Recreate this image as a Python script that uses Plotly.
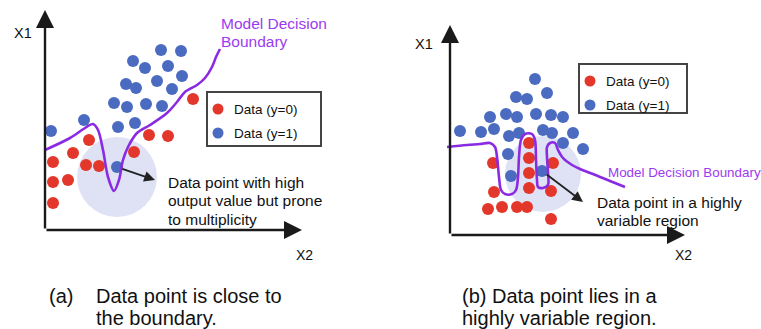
import plotly.graph_objects as go

W, H = 761, 329
FONT = "Arial, Liberation Sans, sans-serif"
RED = "#e4372b"
BLUE = "#4a6bc0"
PURPLE = "#8a2be2"
PURPLE_TXT = "#9b3bef"
HALO = "#dfe2f5"

# ---------------- panel (a): point close to the boundary ----------------
a_red_x2 = [148, 104, 123, 89, 44, 28, 8, 41, 54, 8, 23, 8]
a_red_x1 = [131, 95, 94, 78, 90, 77, 68, 65, 64, 48, 50, 27]
a_blue_x2 = [116, 136, 88, 100, 123, 137, 81, 91, 112, 127, 69, 82, 101, 117, 90, 73, 39, 6, 72]
a_blue_x1 = [180, 179, 169, 162, 164, 154, 146, 142, 149, 141, 127, 123, 126, 124, 107, 103, 110, 99, 63]
a_bound_x2 = [0, 25, 40, 48, 53, 58, 63, 69, 74, 78, 83, 92, 105, 122, 132, 140, 152, 160, 167, 171, 175]
a_bound_x1 = [80, 92, 102, 106, 100, 80, 53, 39, 50, 70, 83, 97, 105, 117, 128, 138, 145, 152, 163, 173, 181]
a_focus = (72, 63)          # highlighted sample
a_halo = (72, 53, 40)       # neighbourhood centre and radius
a_pointer_tip = (110, 50)

# ---------------- panel (b): point in a highly variable region ----------------
b_red_x2 = [79, 79, 79, 79, 77, 103, 101, 101, 43, 44, 38, 52, 67]
b_red_x1 = [92, 77, 62, 47, 28, 72, 44, 16, 72, 43, 26, 28, 28]
b_blue_x2 = [85, 66, 77, 97, 40, 56, 67, 86, 101, 113, 10, 31, 44, 59, 69, 93, 102, 123, 113, 133, 58, 61, 92]
b_blue_x1 = [156, 138, 136, 142, 118, 121, 118, 121, 120, 118, 104, 103, 106, 99, 102, 105, 102, 102, 92, 86, 81, 59, 64]
b_bound_x2 = [-3, 17, 30, 40, 45, 47, 49, 51, 55, 62, 66, 68, 69, 71, 75, 82, 85, 86, 87, 88, 93,
              98, 98, 97, 97, 100, 105, 108, 113, 122, 130, 143, 160, 175]
b_bound_x1 = [88, 90, 91, 92, 88, 78, 58, 45, 41, 41, 45, 58, 78, 95, 101, 101, 95, 75, 55, 48, 47,
              50, 62, 78, 88, 92, 92, 85, 77, 70, 66, 61, 54, 48]
b_focus = (92, 64)
b_halo = (93, 61, 38)
b_pointer_tip = (133, 33)

legend_labels = ["Data (y=0)", "Data (y=1)"]

fig = go.Figure()
annotations = []
shapes = []


def panel(ax, ay, red_x, red_y, blue_x, blue_y, bx, by, halo, focus, tip,
          x_len, y_len, x1_pos, x2_pos, legend_box, text_lines, text_pos, text_size,
          bound_lines, bound_pos, bound_size):
    axref = "x" if ax == "x" else "x2"
    ayref = "y" if ay == "y" else "y2"
    cx, cy, r = halo
    shapes.append(dict(type="circle", xref=axref, yref=ayref, x0=cx - r, x1=cx + r,
                       y0=cy - r, y1=cy + r, fillcolor=HALO, line=dict(width=0), layer="below"))
    fig.add_trace(go.Scatter(x=red_x, y=red_y, mode="markers", xaxis=ax, yaxis=ay,
                             marker=dict(color=RED, size=12), showlegend=False, hoverinfo="skip"))
    fig.add_trace(go.Scatter(x=blue_x, y=blue_y, mode="markers", xaxis=ax, yaxis=ay,
                             marker=dict(color=BLUE, size=12), showlegend=False, hoverinfo="skip"))
    fig.add_trace(go.Scatter(x=bx, y=by, mode="lines", xaxis=ax, yaxis=ay,
                             line=dict(color=PURPLE, width=2.6, shape="spline", smoothing=0.9),
                             showlegend=False, hoverinfo="skip"))
    # axes with arrow heads
    for tx, ty in [(0, y_len), (x_len, 0)]:
        annotations.append(dict(xref=axref, yref=ayref, axref=axref, ayref=ayref,
                                x=tx, y=ty, ax=0, ay=0, text="", showarrow=True,
                                arrowhead=2, arrowsize=1.5, arrowwidth=2.4, arrowcolor="#1a1a1a",
                                standoff=0, startstandoff=0))
    annotations.append(dict(xref=axref, yref=ayref, x=x1_pos[0], y=x1_pos[1], text="X1",
                            showarrow=False, font=dict(family=FONT, size=14.5, color="#111")))
    annotations.append(dict(xref=axref, yref=ayref, x=x2_pos[0], y=x2_pos[1], text="X2",
                            showarrow=False, font=dict(family=FONT, size=14, color="#111")))
    # pointer to the highlighted sample
    annotations.append(dict(xref=axref, yref=ayref, axref=axref, ayref=ayref,
                            x=tip[0], y=tip[1], ax=focus[0], ay=focus[1], text="",
                            showarrow=True, arrowhead=2, arrowsize=1.2, arrowwidth=1.8,
                            arrowcolor="#222", standoff=0, startstandoff=4))
    # legend box
    lx0, lx1, ly0, ly1 = legend_box
    shapes.append(dict(type="rect", xref=axref, yref=ayref, x0=lx0, x1=lx1, y0=ly0, y1=ly1,
                       line=dict(color="#444", width=2), fillcolor="rgba(0,0,0,0)"))
    rows = [ly1 - 17, ly1 - 41]
    fig.add_trace(go.Scatter(x=[lx0 + 11, lx0 + 11], y=rows, mode="markers", xaxis=ax, yaxis=ay,
                             marker=dict(color=[RED, BLUE], size=11), showlegend=False,
                             hoverinfo="skip"))
    for lab, yy in zip(legend_labels, rows):
        annotations.append(dict(xref=axref, yref=ayref, x=lx0 + 25, y=yy, text=lab,
                                xanchor="left", yanchor="middle", showarrow=False,
                                font=dict(family=FONT, size=13.5, color="#111")))
    # explanatory text
    step = text_size * 1.2
    for i, line in enumerate(text_lines):
        annotations.append(dict(xref=axref, yref=ayref, x=text_pos[0], y=text_pos[1] - i * step,
                                text=line, xanchor="left", yanchor="middle", showarrow=False,
                                font=dict(family=FONT, size=text_size, color="#111")))
    bstep = bound_size * 1.2
    for i, line in enumerate(bound_lines):
        annotations.append(dict(xref=axref, yref=ayref, x=bound_pos[0], y=bound_pos[1] - i * bstep,
                                text=line, xanchor="left", yanchor="middle", showarrow=False,
                                font=dict(family=FONT, size=bound_size, color=PURPLE_TXT)))


panel("x", "y", a_red_x2, a_red_x1, a_blue_x2, a_blue_x1, a_bound_x2, a_bound_x1,
      a_halo, a_focus, a_pointer_tip, 257, 220, (-22, 197), (259, -25),
      (162, 276, 84, 138),
      ["Data point with high", "output value but prone", "to multiplicity"], (121, 48), 15.5,
      ["Model Decision", "Boundary"], (174, 207), 15.5)

panel("x2", "y2", b_red_x2, b_red_x1, b_blue_x2, b_blue_x1, b_bound_x2, b_bound_x1,
      b_halo, b_focus, b_pointer_tip, 235, 210, (-26, 191), (233, -20),
      (129, 237, 122, 171),
      ["Data point in a highly", "variable region"], (145, 33), 15.5,
      ["Model Decision Boundary"], (156, 63), 13.4)

# captions
def paper(px, py):
    return px / W, 1 - py / H

captions = [((47, 296), "(a)"), ((94, 296), "Data point is close to"), ((94, 318), "the boundary."),
            ((460, 296), "(b) Data point lies in a"), ((460, 318), "highly variable region.")]
for (px, py), txt in captions:
    x, y = paper(px, py)
    annotations.append(dict(xref="paper", yref="paper", x=x, y=y, text=txt, xanchor="left",
                            yanchor="middle", showarrow=False,
                            font=dict(family=FONT, size=20, color="#111")))

hidden = dict(visible=False, fixedrange=True)
fig.update_layout(
    width=W, height=H, autosize=False,
    margin=dict(l=0, r=0, t=0, b=0),
    paper_bgcolor="white", plot_bgcolor="white",
    xaxis=dict(range=[-45, W - 45], domain=[0, 1], **hidden),
    yaxis=dict(range=[230 - H, 230], domain=[0, 1], **hidden),
    xaxis2=dict(range=[-450, W - 450], domain=[0, 1], overlaying="x", anchor="y2", **hidden),
    yaxis2=dict(range=[235 - H, 235], domain=[0, 1], overlaying="y", anchor="x2", **hidden),
    shapes=shapes, annotations=annotations, showlegend=False,
)

fig.write_html("out.html", config={"displayModeBar": False})
